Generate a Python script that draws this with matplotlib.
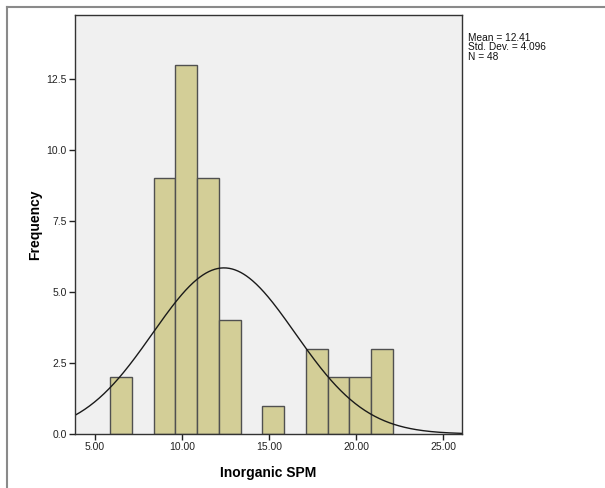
import matplotlib
matplotlib.use("Agg")
import matplotlib.pyplot as plt
import numpy as np
from matplotlib.lines import Line2D

# histogram bins and counts
bin_start = 5.863
bin_width = 1.251
counts = [2, 0, 9, 13, 9, 4, 0, 1, 0, 3, 2, 2, 3]

mean = 12.41
std = 4.096
n = 48

x_ticks = [5, 10, 15, 20, 25]
x_ticklabels = ["5.00", "10.00", "15.00", "20.00", "25.00"]
y_ticks = [0.0, 2.5, 5.0, 7.5, 10.0, 12.5]

plt.rcParams["font.family"] = ["Liberation Sans", "DejaVu Sans"]

fig = plt.figure(figsize=(6.05, 4.88), dpi=100)
ax = fig.add_axes([75 / 605, 1 - 434 / 488, 387 / 605, 419.5 / 488])
ax.set_facecolor("#F0F0F0")

edges = bin_start + bin_width * np.arange(len(counts) + 1)
for left, c in zip(edges[:-1], counts):
    if c > 0:
        ax.bar(left, c, width=bin_width, align="edge", color="#D3CE97",
               edgecolor="#505050", linewidth=1.0)

xs = np.linspace(3.85, 26.09, 400)
ys = n * bin_width / (std * np.sqrt(2 * np.pi)) * np.exp(-0.5 * ((xs - mean) / std) ** 2)
ax.plot(xs, ys, color="#1a1a1a", linewidth=1.0)

ax.set_xlim(3.85, 26.09)
ax.set_ylim(0, 14.77)
ax.set_xticks(x_ticks)
ax.set_xticklabels(x_ticklabels)
ax.set_yticks(y_ticks)
ax.set_yticklabels([f"{v:.1f}" for v in y_ticks])
ax.tick_params(axis="both", direction="out", length=4, width=1, color="#222222",
               labelsize=7.5, labelcolor="#222222", pad=2)
ax.tick_params(top=False, right=False)
for s in ax.spines.values():
    s.set_color("#333333")
    s.set_linewidth(1.0)

ax.set_xlabel("Inorganic SPM", fontsize=10, fontweight="bold", labelpad=10)
ax.set_ylabel("Frequency", fontsize=10, fontweight="bold", labelpad=3)

fig.text(468 / 605, 1 - 60 / 488, "Mean = 12.41\nStd. Dev. = 4.096\nN = 48",
         fontsize=7.3, va="baseline", ha="left", linespacing=0.95, color="#111111")

# outer frame of the chart window
fig.add_artist(Line2D([7 / 605, 1], [1 - 7 / 488, 1 - 7 / 488], color="#8a8a8a",
                      linewidth=1.5, transform=fig.transFigure))
fig.add_artist(Line2D([7 / 605, 7 / 605], [0, 1 - 7 / 488], color="#8a8a8a",
                      linewidth=1.5, transform=fig.transFigure))

fig.savefig("out.png", dpi=100)
